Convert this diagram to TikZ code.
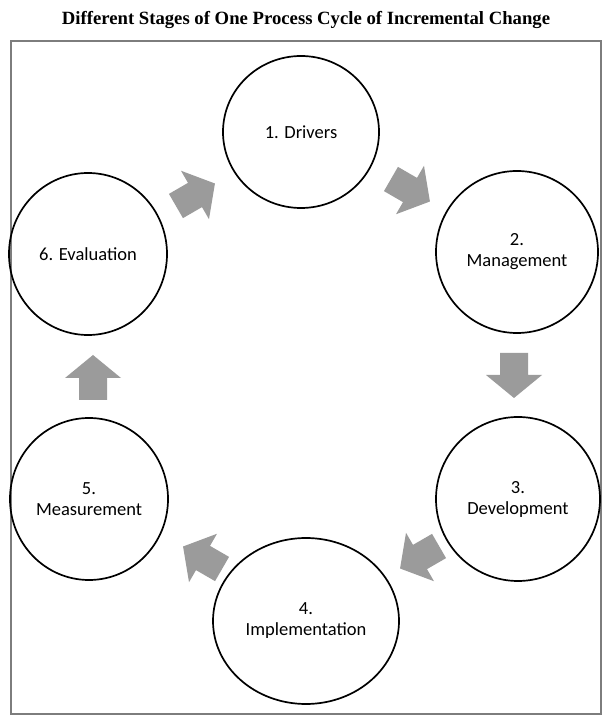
\documentclass[tikz,border=0pt]{standalone}
\usepackage{fontspec}
\setmainfont{Carlito}
\newfontfamily\titlefont{Liberation Serif}
\usetikzlibrary{shapes.geometric}
\definecolor{arrowgray}{RGB}{155,155,155}
\definecolor{framegray}{RGB}{125,125,125}
\tikzset{
  stage/.style={ellipse, draw=black, line width=1.7pt, align=center, inner sep=0pt,
    font=\fontsize{18.5}{21}\selectfont},
  blockarrow/.pic={\fill[arrowgray] (-22,-14) -- (0,-14) -- (0,-28) -- (23,0) -- (0,28) -- (0,14) -- (-22,14) -- cycle;}
}
\begin{document}
\begin{tikzpicture}[x=1pt,y=1pt]
\useasboundingbox (0,0) rectangle (612,724);
\node[font=\titlefont\bfseries\fontsize{18.7}{22}\selectfont] (title) at (306,704) {Different Stages of One Process Cycle of Incremental Change};
\draw[framegray, line width=2.5pt] (11,683) rectangle (601,10);
\node[stage, minimum width=156pt, minimum height=152pt] (c1) at (301,592) {1. Drivers};
\node[stage, minimum width=162pt, minimum height=162pt] (c2) at (517,472) {2.\\Management};
\node[stage, minimum width=164pt, minimum height=164pt] (c3) at (518,225) {3.\\Development};
\node[stage, minimum width=186pt, minimum height=166pt] (c4) at (306,103) {4.\\Implementation};
\node[stage, minimum width=158pt, minimum height=162pt] (c5) at (89,225) {5.\\Measurement};
\node[stage, minimum width=158pt, minimum height=162pt] (c6) at (88,470) {6. Evaluation};
\pic[rotate=30] at (195,529) {blockarrow};
\pic[rotate=-30] at (410,534) {blockarrow};
\pic[rotate=-90] at (514,349) {blockarrow};
\pic[rotate=-150] at (420,167) {blockarrow};
\pic[rotate=150] at (203,166) {blockarrow};
\pic[rotate=90] at (93,346) {blockarrow};
\end{tikzpicture}
\end{document}
